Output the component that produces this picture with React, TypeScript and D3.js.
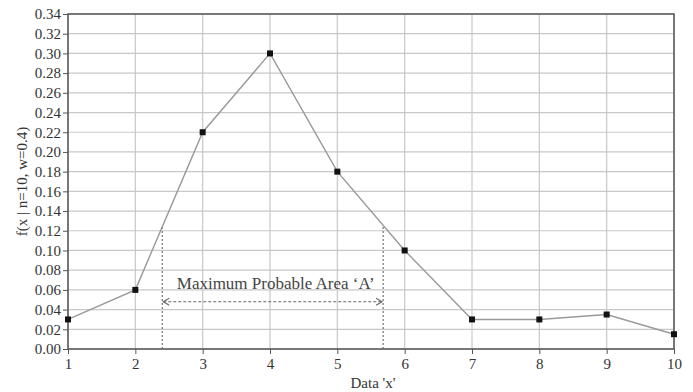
import * as d3 from "d3";
import { useEffect, useRef } from "react";

// binomial-ish curve
const xValues = [1, 2, 3, 4, 5, 6, 7, 8, 9, 10];
const fValues = [0.03, 0.06, 0.22, 0.3, 0.18, 0.1, 0.03, 0.03, 0.035, 0.015];
const yTicks = d3.range(0, 0.3401, 0.02);
const areaBounds = [2.4, 5.68];
const areaLabel = "Maximum Probable Area \u2018A\u2019";
const xLabel = "Data 'x'";
const yLabel = "f(x | n=10, w=0.4)";

export default function App() {
  const ref = useRef<SVGSVGElement | null>(null);

  useEffect(() => {
    const svg = d3.select(ref.current as SVGSVGElement);
    svg.selectAll("*").remove();

    const width = 693;
    const height = 392;
    const margin = { top: 14, right: 19, bottom: 43, left: 68 };
    const font = "'Liberation Serif', 'Times New Roman', serif";
    svg.attr("viewBox", `0 0 ${width} ${height}`);

    const x = d3.scaleLinear().domain([1, 10]).range([margin.left, width - margin.right]);
    const y = d3.scaleLinear().domain([0, 0.34]).range([height - margin.bottom, margin.top]);

    // grid
    const grid = svg.append("g");
    grid
      .selectAll("line.h")
      .data(yTicks)
      .enter()
      .append("line")
      .attr("x1", x(1))
      .attr("x2", x(10))
      .attr("y1", (d) => y(d))
      .attr("y2", (d) => y(d))
      .attr("stroke", "#c8c8c8")
      .attr("stroke-width", 1.2);
    grid
      .selectAll("line.v")
      .data(xValues)
      .enter()
      .append("line")
      .attr("x1", (d) => x(d))
      .attr("x2", (d) => x(d))
      .attr("y1", y(0))
      .attr("y2", y(0.34))
      .attr("stroke", "#c8c8c8")
      .attr("stroke-width", 1.2);

    // axes
    const yAxis = svg
      .append("g")
      .attr("transform", `translate(${margin.left},0)`)
      .call(d3.axisLeft(y).tickValues(yTicks).tickSize(5).tickFormat((d) => d3.format(".2f")(Number(d))));
    const xAxis = svg
      .append("g")
      .attr("transform", `translate(0,${height - margin.bottom})`)
      .call(d3.axisBottom(x).tickValues(xValues).tickSize(5).tickFormat((d) => String(d)));
    [yAxis, xAxis].forEach((g) => {
      g.select(".domain").remove();
      g.selectAll(".tick line").attr("stroke", "#555");
      g.selectAll("text").attr("font-family", font).attr("font-size", "15px").attr("fill", "#333");
    });
    yAxis.selectAll("text").attr("x", -7);
    xAxis.selectAll("text").attr("y", 9);

    // frame
    svg
      .append("rect")
      .attr("x", x(1))
      .attr("y", y(0.34))
      .attr("width", x(10) - x(1))
      .attr("height", y(0) - y(0.34))
      .attr("fill", "none")
      .attr("stroke", "#555")
      .attr("stroke-width", 1.5);

    // annotation
    const curve = d3.scaleLinear().domain(xValues).range(fValues);
    const ann = svg.append("g").attr("stroke", "#666").attr("stroke-width", 1.1);
    ann
      .selectAll("line.bound")
      .data(areaBounds)
      .enter()
      .append("line")
      .attr("x1", (d) => x(d))
      .attr("x2", (d) => x(d))
      .attr("y1", y(0))
      .attr("y2", (d) => y(curve(d)))
      .attr("stroke-dasharray", "2 2");
    const arrowY = y(0.048);
    ann
      .append("line")
      .attr("x1", x(areaBounds[0]) + 1)
      .attr("x2", x(areaBounds[1]) - 1)
      .attr("y1", arrowY)
      .attr("y2", arrowY)
      .attr("stroke-dasharray", "3 2");
    const x0 = x(areaBounds[0]) + 1;
    const x1 = x(areaBounds[1]) - 1;
    ann
      .append("path")
      .attr("fill", "none")
      .attr("d", `M${x0 + 6},${arrowY - 3.5}L${x0},${arrowY}L${x0 + 6},${arrowY + 3.5}M${x1 - 6},${arrowY - 3.5}L${x1},${arrowY}L${x1 - 6},${arrowY + 3.5}`);
    svg
      .append("text")
      .attr("x", (x(areaBounds[0]) + x(areaBounds[1])) / 2 + 3)
      .attr("y", y(0.061))
      .attr("text-anchor", "middle")
      .attr("font-family", font)
      .attr("font-size", "17px")
      .attr("fill", "#444")
      .text(areaLabel);

    // line + markers
    const pts = xValues.map((d, i) => [d, fValues[i]] as [number, number]);
    svg
      .append("path")
      .datum(pts)
      .attr("fill", "none")
      .attr("stroke", "#999")
      .attr("stroke-width", 1.4)
      .attr("d", d3.line<[number, number]>().x((d) => x(d[0])).y((d) => y(d[1])));
    svg
      .append("g")
      .selectAll("rect")
      .data(pts)
      .enter()
      .append("rect")
      .attr("x", (d) => x(d[0]) - 3)
      .attr("y", (d) => y(d[1]) - 3)
      .attr("width", 6)
      .attr("height", 6)
      .attr("fill", "#111");

    // axis titles
    svg
      .append("text")
      .attr("x", (x(1) + x(10)) / 2 + 2)
      .attr("y", height - 4)
      .attr("text-anchor", "middle")
      .attr("font-family", font)
      .attr("font-size", "15px")
      .attr("fill", "#333")
      .text(xLabel);
    svg
      .append("text")
      .attr("transform", `translate(27,${(y(0) + y(0.34)) / 2}) rotate(-90)`)
      .attr("text-anchor", "middle")
      .attr("font-family", font)
      .attr("font-size", "15px")
      .attr("fill", "#333")
      .text(yLabel);
  }, []);

  return (
    <svg
      ref={ref}
      width={693}
      height={392}
      style={{ position: "absolute", left: 0, top: 0, background: "#fff" }}
    />
  );
}
